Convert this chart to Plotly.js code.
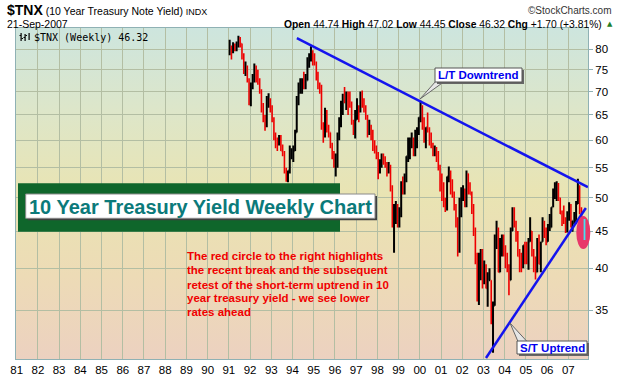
<!DOCTYPE html>
<html>
<head>
<meta charset="utf-8">
<script src="https://cdn.plot.ly/plotly-3.0.1.min.js"></script>
<style>
  html, body { margin:0; padding:0; background:#fff; }
  #bg { position:absolute; left:16px; top:28px; width:572px; height:331px;
        background: linear-gradient(to bottom, #cde5de 0%, #dde6c9 25%, #e9e4b3 50%, #eddbb6 75%, #ecd1c0 100%); }
  #chart { position:absolute; left:0; top:0; width:620px; height:376px; }
</style>
</head>
<body>
<div id="bg"></div>
<div id="chart"></div>
<script>
// ---- Data: monthly OHLC of $TNX (x10 yield), Jan 1991 .. Sep 2007 ----
const firstYear = 1991, lastYear = 2007, lastMonth = 9;

const open = [
 80.5,80.5,79.5,80.5,80,81,82.5,81.5,78.5,74.5,75,72.5,
 67.5,71.5,72.5,75.5,74,72,70,66.5,64,63,68,68,
 66.5,64,60.5,60,59.5,60.5,58,57.5,54.5,53.5,54.5,57.5,
 57.5,58,61.5,67.5,70.5,71.5,72.5,71,72.5,76.5,78.5,78.5,
 78,76.5,73.5,71,70.5,62.5,62,64.5,62,61.5,59,57.5,
 55.5,56,61,63.5,67,69,67.5,69.5,67.5,67,63.5,61.5,
 64,66.5,66,69,67.5,66,64.5,61.5,62.5,61,58.5,58.5,
 57.5,54.5,56,56.5,56,55.5,54.5,55,51.5,46,46.5,47.5,
 46.5,47.5,52.5,51.5,53.5,57,58.5,59.5,59.5,58.5,60.5,62,
 64.5,66.5,63.5,60,62.5,62,60.5,59,57.5,58,57.5,55,
 51.5,50.5,49,49,53.5,54,52,50.5,48.5,46,42.5,48,
 50.5,51,48.8,54,51,50.5,48,45,41.5,36.5,39,42,
 38.5,40,37.5,38.5,38.5,34,35.5,44,45,39.5,43,43.5,
 42.5,41.5,40,38.5,45,46.5,46,44.5,41.5,41.5,40.5,43,
 42.5,41.5,43.5,45,42,40,39.5,43.5,40.5,43.5,45.5,45,
 43.5,45.5,45.5,48.5,51,51,52,50,47.5,46.5,46.5,45,
 47.2,48.5,45.5,46.5,46.5,49,50.5,47.5,45.5
];
const high = [
 82.5,81,81.8,81.5,82,83.5,83.2,81.5,79,77,76,73,
 72,74,76.5,76,75,73,70.5,67.5,65,69,69.6,68.5,
 67,64.5,61.5,60.5,61,61,59.2,58,55,54.5,59,58.5,
 59,62,69,72,73,73,74.5,74,78,79,80.8,79.8,
 79,77,74.5,72,71.5,63.5,66.5,66,63,61.5,59.5,58,
 57.5,61.5,64.5,68,69.5,71,70,70,70,67.8,64,66,
 68.5,67,70,70.2,68.5,67,65,64,63,62,60,59,
 57.8,56.5,57.5,57.5,57,56,56,55.5,52,49,49.5,49,
 48.5,52.7,53.5,54,57,60.5,60.5,61.5,60.5,62,62.5,64.5,
 68,67,64.5,62.5,65.5,62.5,61.5,59.5,59,58.7,58,55.5,
 54,52.5,50,53.5,55.2,54.5,53,51,49,47,50,51.7,
 52,51.5,54.5,54,52.5,51,49,45.5,42,42,42.5,42.5,
 41,40.5,39.5,40,38.5,36,44.5,46.5,45.5,44,44.5,44.5,
 43,42,40.5,45.5,48.5,48.5,46.5,45,42.5,42,43,43.5,
 43.5,44,47,45,42.5,41.5,44,44.5,43.5,47,46.5,45.5,
 46,47.5,48.5,51.5,52.5,52.7,52.4,50,48,48.8,47,47.9,
 49.3,49,46.5,47.8,49.5,53.1,52,48.5,47
];
const low = [
 78.5,77.5,79,79.5,79.5,80.5,80.5,77.5,74,73.5,72,67,
 66.8,70.5,72,72,71.5,69.5,65.5,63.5,61.8,62.5,66.5,65.5,
 63.5,60,58.5,58,59,58,57,54,52.6,52.5,54,56.5,
 56,58,61.5,67,69.5,69.5,70.5,70.5,72.5,75.5,77,76,
 76,72.5,70.5,69.5,62,59.5,60.5,61.5,60.5,58.5,56.5,55,
 53.5,55,60,62.5,65,67.5,66,65,66.5,63,61,60.3,
 64,63.5,65.5,66.5,65.5,64,60.5,61,60,58,57.5,56.5,
 53,54,55,55.5,55,53.5,54,51,45.5,42,46,45.5,
 45.5,47,50.5,50.5,52.5,56,56.5,58.5,57,57,58.5,61,
 63.5,62,59.5,58.5,61.5,59,58.5,57,57,56,54.5,51,
 49.5,48.5,47.8,48,52.5,50.5,50,48,45.5,41.5,42,47,
 49.5,48.5,48.5,50.5,50.5,47.5,44.3,40.5,36,35.6,38.5,37.5,
 38,37.5,35.4,38.5,33.5,30.6,35.5,42.5,39.5,39.5,41.5,41.5,
 40,39.5,36.7,38.5,45,45.5,43.5,41.5,39.5,39.5,40,40.5,
 40.5,39.8,43.5,41.5,39.5,38.6,39.5,40.5,39.5,43.5,44,43,
 43.5,45,45.5,48.5,49.8,49.5,49.5,47.5,45.7,46,44.7,44.8,
 46.5,45.5,44.9,46,46,49,47.5,43.8,43.6
];
const close = [
 80.5,79.5,80.5,80,81,82.5,81.5,78.5,74.5,75,72.5,67.5,
 71.5,72.5,75.5,74,72,70,66.5,64,63,68,68,66.5,
 64,60.5,60,59.5,60.5,58,57.5,54.5,53.5,54.5,57.5,57.5,
 58,61.5,67.5,70.5,71.5,72.5,71,72.5,76.5,78.5,78.5,78,
 76.5,73.5,71,70.5,62.5,62,64.5,62,61.5,59,57.5,55.5,
 56,61,63.5,67,69,67.5,69.5,67.5,67,63.5,61.5,64,
 66.5,66,69,67.5,66,64.5,61.5,62.5,61,58.5,58.5,57.5,
 54.5,56,56.5,56,55.5,54.5,55,51.5,46,46.5,47.5,46.5,
 47.5,52.5,51.5,53.5,57,58.5,59.5,59.5,58.5,60.5,62,64.5,
 66.5,63.5,60,62.5,62,60.5,59,57.5,58,57.5,55,51.5,
 50.5,49,49,53.5,54,52,50.5,48.5,46,42.5,48,50.5,
 51,48.8,54,51,50.5,48,45,41.5,36.5,39,42,38.5,
 40,37.5,38.5,38.5,34,35.5,44,45,39.5,43,43.5,42.5,
 41.5,40,38.5,45,46.5,46,44.5,41.5,41.5,40.5,43,42.5,
 41.5,43.5,45,42,40,39.5,43.5,40.5,43.5,45.5,45,43.5,
 45.5,45.5,48.5,51,51,52,50,47.5,46.5,46.5,45,47.2,
 48.5,45.5,46.5,46.5,49,50.5,47.5,45.5,46.3
];

// trend lines (annotation lines drawn on the chart)
const ltDates = ['1994-03-17', '2007-12-04'];
const ltVals  = [82.9, 51.7];
const stDates = ['2003-02-14', '2007-10-30'];
const stVals  = [30.1, 48.4];

// axis ticks
const yTicks = [35, 40, 45, 50, 55, 60, 65, 70, 75, 80];
const xTickYears = ['81','82','83','84','85','86','87','88','89','90','91','92','93','94',
                    '95','96','97','98','99','00','01','02','03','04','05','06','07'];

// month dates for the bars
const months = [];
for (let y = firstYear; y <= lastYear; y++) {
  for (let m = 1; m <= 12; m++) {
    if (y === lastYear && m > lastMonth) break;
    months.push(y + '-' + String(m).padStart(2, '0') + '-15');
  }
}
const xTickVals = xTickYears.map((s, i) => (1981 + i) + '-01-01');

// pixel helpers for paper positioning (plot area 16..588 x 28..359)
const L = 16, T = 28, W = 572, H = 331;
const px = x => (x - L) / W;
const py = y => (T + H - y) / H;

const FONT = 'Liberation Sans, Arial, sans-serif';

const traces = [
  {
    type: 'ohlc', x: months, open: open, high: high, low: low, close: close,
    increasing: { line: { color: '#000000', width: 2 } },
    decreasing: { line: { color: '#ee0000', width: 1.6 } },
    tickwidth: 0.35, hoverinfo: 'skip', showlegend: false
  },
  { type: 'scatter', mode: 'lines', x: ltDates, y: ltVals,
    line: { color: '#1414ee', width: 2.5 }, hoverinfo: 'skip', showlegend: false },
  { type: 'scatter', mode: 'lines', x: stDates, y: stVals,
    line: { color: '#1414ee', width: 2.5 }, hoverinfo: 'skip', showlegend: false }
];

function rect(x0, y0, x1, y1, fill, lineColor, lw) {
  return { type: 'rect', xref: 'paper', yref: 'paper', x0: px(x0), x1: px(x1), y0: py(y1), y1: py(y0),
           fillcolor: fill, line: { color: lineColor || fill, width: lw || 0 }, layer: 'above' };
}
function tri(pts, fill, lineColor) {
  const p = pts.map((q, i) => (i ? 'L' : 'M') + px(q[0]) + ',' + py(q[1])).join(' ') + ' Z';
  return { type: 'path', xref: 'paper', yref: 'paper', path: p, fillcolor: fill,
           line: { color: lineColor, width: 1 }, layer: 'above' };
}

const shapes = [
  // title banner
  rect(18, 183.3, 340, 231.7, '#0f662b'),
  rect(27.7, 196, 377, 220.3, '#404040'),
  rect(25.7, 194, 375, 218.3, '#ffffff', '#8a8a8a', 1),
  // L/T Downtrend callout
  tri([[436, 81], [445, 81], [420, 99]], '#e6e6e6', '#666666'),
  rect(437, 70, 524, 84, '#666666'),
  rect(435, 68, 522, 82, '#ffffff', '#555555', 1),
  // S/T Uptrend callout
  tri([[518, 341.5], [527, 341.5], [510, 323]], '#e6e6e6', '#666666'),
  rect(519, 343, 589, 356, '#666666'),
  rect(517, 341, 587, 354, '#ffffff', '#555555', 1),
  // red circle
  { type: 'circle', xref: 'paper', yref: 'paper', x0: px(576.3), x1: px(590.3), y0: py(249), y1: py(216),
    fillcolor: '#e8386a', line: { color: '#e8386a', width: 0 }, layer: 'above' },
  rect(583.6, 219, 585.4, 240, '#44e2f2'),
  // legend icon
  rect(20.5, 33, 21.7, 41, '#000'), rect(19.5, 35, 21, 36, '#000'), rect(21.5, 38, 23, 39, '#000'),
  rect(24.5, 34, 25.7, 41, '#000'), rect(23.5, 37, 25, 38, '#000'), rect(25.5, 35, 27, 36, '#000'),
  rect(28.5, 33, 29.7, 40, '#000')
];

function ann(x, y, text, opts) {
  return Object.assign({ xref: 'paper', yref: 'paper', x: px(x), y: py(y), text: text,
    showarrow: false, xanchor: 'left', yanchor: 'middle',
    font: { family: FONT, size: 11, color: '#000' } }, opts || {});
}

const redLines = [
  'The red circle to the right highlights',
  'the recent break and the subsequent',
  'retest of the short-term uptrend in 10',
  'year treasury yield - we see lower',
  'rates ahead'
];
const redY = [256, 270.3, 284.6, 298.3, 311.8];

const annotations = [
  ann(5, 10, '<span style="font-size:14px"><b>$TNX</b></span> (10 Year Treasury Note Yield) <span style="font-size:9px">INDX</span>',
      { font: { family: FONT, size: 10.5, color: '#000' } }),
  ann(614, 10.5, '©StockCharts.com', { xanchor: 'right', font: { family: FONT, size: 10, color: '#333' } }),
  ann(5, 24, '21-Sep-2007', { font: { family: FONT, size: 10.5, color: '#000' } }),
  ann(604, 24, '<b>Open</b> 44.74 <b>High</b> 47.02 <b>Low</b> 44.45 <b>Close</b> 46.32 <b>Chg</b> +1.70 (+3.81%)',
      { xanchor: 'right', font: { family: FONT, size: 10.3, color: '#000' } }),
  ann(610, 23.5, '▲', { xanchor: 'center', font: { family: 'DejaVu Sans', size: 7, color: '#1f7f2a' } }),
  ann(31.5, 37.5, '$TNX (Weekly) 46.32', { font: { family: 'DejaVu Sans Mono', size: 10, color: '#000' } }),
  ann(200, 206.5, '<b>10 Year Treasury Yield Weekly Chart</b>',
      { xanchor: 'center', font: { family: FONT, size: 20, color: '#0b7a7a' } }),
  ann(478.5, 75.2, '<b>L/T Downtrend</b>', { xanchor: 'center', font: { family: FONT, size: 11.5, color: '#0000ee' } }),
  ann(552, 347.7, '<b>S/T Uptrend</b>', { xanchor: 'center', font: { family: FONT, size: 11.5, color: '#0000ee' } })
].concat(redLines.map((t, i) => ann(185, redY[i], '<b>' + t + '</b>',
      { font: { family: FONT, size: 11.5, color: '#f00000' } })));

const layout = {
  width: 620, height: 376,
  margin: { l: 16, r: 32, t: 28, b: 17, pad: 0 },
  paper_bgcolor: 'rgba(0,0,0,0)', plot_bgcolor: 'rgba(0,0,0,0)',
  font: { family: FONT, size: 11, color: '#000' },
  showlegend: false, dragmode: false,
  xaxis: {
    type: 'date', range: ['1980-12-20', '2007-12-06'],
    tickvals: xTickVals, ticktext: xTickYears, ticks: '',
    showgrid: true, gridcolor: '#b3bea3', gridwidth: 1,
    showline: true, linecolor: '#8fb1b4', linewidth: 1, mirror: true,
    zeroline: false, rangeslider: { visible: false }, fixedrange: true,
    tickfont: { family: FONT, size: 11.5, color: '#000' }
  },
  yaxis: {
    type: 'log', side: 'right',
    range: [Math.log10(30.0), Math.log10(85.6)],
    tickvals: yTicks, ticktext: yTicks.map(String),
    ticks: 'outside', ticklen: 4, tickcolor: '#8fb1b4',
    showgrid: true, gridcolor: '#b3bea3', gridwidth: 1,
    showline: true, linecolor: '#8fb1b4', linewidth: 1, mirror: true,
    zeroline: false, fixedrange: true,
    tickfont: { family: FONT, size: 11.5, color: '#000' }
  },
  shapes: shapes,
  annotations: annotations
};

Plotly.newPlot('chart', traces, layout, { displayModeBar: false, staticPlot: true });
</script>
</body>
</html>
